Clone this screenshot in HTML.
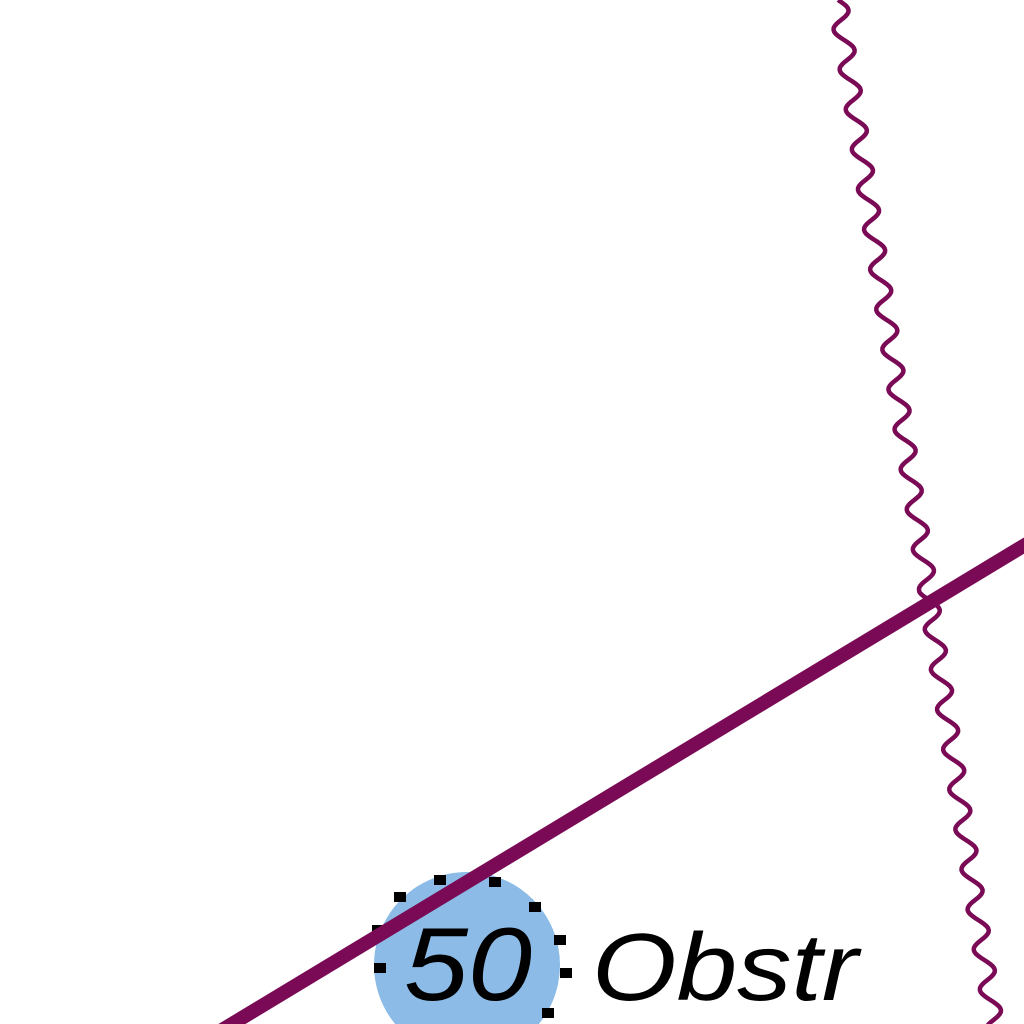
<!DOCTYPE html>
<html><head><meta charset="utf-8"><style>html,body{margin:0;padding:0;background:#fff}svg{display:block}</style></head>
<body>
<svg id="map" width="1024" height="1024" viewBox="0 0 1024 1024" xmlns="http://www.w3.org/2000/svg">
  <rect width="1024" height="1024" fill="#fff"/>
  <path id="wavy" fill="none" stroke="#7a0a55" stroke-width="4.5"/>
  <circle cx="467" cy="965" r="93" fill="#8bbbe6"/>
  <g id="dots" fill="#000"></g>
  <line x1="222" y1="1030" x2="1030" y2="542" stroke="#7a0a55" stroke-width="14"/>
  <text x="404" y="1000" textLength="128" lengthAdjust="spacingAndGlyphs" font-family="Liberation Sans, sans-serif" font-style="italic" font-size="104" fill="#000">50</text>
  <text x="592" y="1000" textLength="266" lengthAdjust="spacingAndGlyphs" font-family="Liberation Sans, sans-serif" font-style="italic" font-size="96" fill="#000">Obstr</text>
</svg>
<script>
const pts=[];
function seg(x0,y0,x1,y1){for(let y=y0;y<=y1;y+=2){const t=(y-y0)/(y1-y0);const x=x0+(x1-x0)*t+9*Math.sin(y/40*2*Math.PI);pts.push([x,y]);}}
seg(838,0,928,590);seg(928,592,995,1030);
const w=document.getElementById('wavy');
w.setAttribute('d','M'+pts.map(p=>p[0].toFixed(1)+','+p[1]).join(' L'));
const dots=[[400,897],[440,880],[495,882],[535,907],[560,940],[566,973],[548,1013],[380,968],[378,930]];
const g=document.getElementById('dots');
dots.forEach(d=>{const r=document.createElementNS('http://www.w3.org/2000/svg','rect');


r.setAttribute('x',d[0]-6);r.setAttribute('y',d[1]-5);r.setAttribute('width',12);r.setAttribute('height',10);g.appendChild(r);});
</script>
</body></html>
